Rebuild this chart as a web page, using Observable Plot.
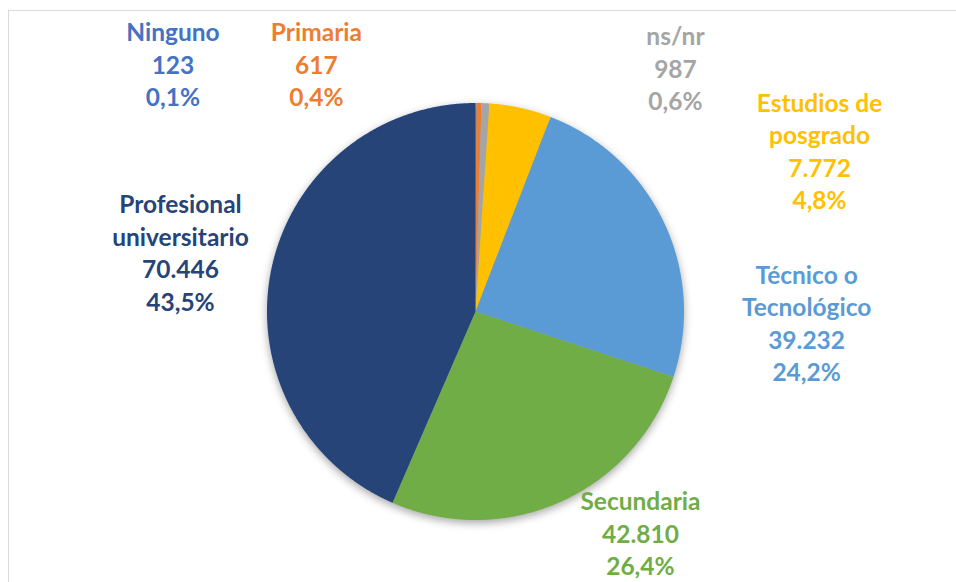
<!DOCTYPE html>
<html>
<head>
<meta charset="utf-8">
<script src="https://cdn.jsdelivr.net/npm/d3@7"></script>
<script src="https://cdn.jsdelivr.net/npm/@observablehq/plot@0.6"></script>
<style>
  html, body { margin: 0; padding: 0; background: #fff; overflow: hidden; }
  #wrap { position: relative; width: 956px; height: 582px; }
  #wrap svg { position: absolute; left: 0; top: 0; }
  #border { position: absolute; left: 8px; top: 10px; right: -4px; bottom: -4px;
            border-top: 1.5px solid #d9d9d9; border-left: 1.5px solid #d9d9d9; pointer-events: none; }
  #wrap svg g[aria-label="line"] { filter: drop-shadow(0px 3px 4px rgba(0,0,0,0.35)); }
</style>
</head>
<body>
<div id="wrap"><div id="border"></div></div>
<script>
// ---- data ----
const categories = ["Ninguno", "Primaria", "ns/nr", "Estudios de posgrado", "Técnico o Tecnológico", "Secundaria", "Profesional universitario"];
const values = [123, 617, 987, 7772, 39232, 42810, 70446];
const colors = ["#4472C4", "#ED7D31", "#A5A5A5", "#FFC000", "#5B9BD5", "#70AD47", "#264478"];
const labelLines = ["Ninguno", "Primaria", "ns/nr", "Estudios de\nposgrado", "Técnico o\nTecnológico", "Secundaria", "Profesional\nuniversitario"];

// ---- layout (label centres in pie-radius units, relative to the pie centre) ----
const labelDX = [-1.451, -0.763, 0.959, 1.650, 1.588, 0.791, -1.415];
const labelDY = [1.175, 1.175, 1.156, 0.760, -0.065, -1.074, 0.273];

const W = 956, H = 582;
const cx = 475, cy = 311, R = 208.5;
const FS = 24.5;

const locale = d3.formatLocale({decimal: ",", thousands: ".", grouping: [3], currency: ["", ""]});
const fmtInt = locale.format(",d");
const fmtPct = locale.format(".1%");

const total = d3.sum(values);

// slice polygons in unit-radius coordinates (clockwise from 12 o'clock)
const slicePts = [];
let cum = 0;
categories.forEach((name, i) => {
  const a0 = cum / total * 2 * Math.PI;
  cum += values[i];
  const a1 = cum / total * 2 * Math.PI;
  const step = Math.PI / 720;
  const n = Math.max(2, Math.ceil((a1 - a0) / step));
  slicePts.push({name, x: 0, y: 0});
  for (let k = 0; k <= n; k++) {
    const a = a0 + (a1 - a0) * k / n;
    slicePts.push({name, x: Math.sin(a), y: Math.cos(a)});
  }
});

const labels = categories.map((name, i) => ({
  name,
  x: labelDX[i],
  y: labelDY[i],
  text: `${labelLines[i]}\n${fmtInt(values[i])}\n${fmtPct(values[i] / total)}`
}));

const chart = Plot.plot({
  width: W,
  height: H,
  margin: 0,
  x: {domain: [-cx / R, (W - cx) / R], axis: null},
  y: {domain: [-(H - cy) / R, cy / R], axis: null},
  color: {domain: categories, range: colors},
  marks: [
    Plot.line(slicePts, {x: "x", y: "y", z: "name", fill: "name", stroke: "none", curve: "linear"}),
    Plot.text(labels, {
      x: "x", y: "y", text: "text", fill: "name",
      fontFamily: "Lato", fontWeight: "bold", fontSize: FS,
      lineHeight: 32.5 / FS, lineAnchor: "middle", textAnchor: "middle", dy: -3
    })
  ]
});

document.getElementById("wrap").appendChild(chart);
</script>
</body>
</html>
